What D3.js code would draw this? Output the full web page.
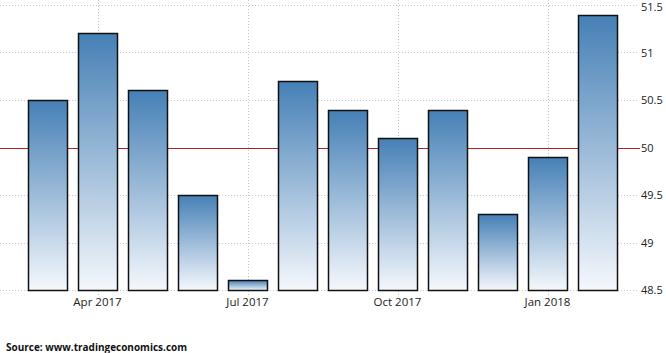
<!DOCTYPE html>
<html>
<meta charset="utf-8">
<head>
<script src="https://cdn.jsdelivr.net/npm/d3@7"></script>
<style>
body { margin: 0; background: #fff; }
text { font-family: "Open Sans", "DejaVu Sans", sans-serif; }
</style>
</head>
<body>
<div id="chart"></div>
<script>
var months = ["Mar 2017", "Apr 2017", "May 2017", "Jun 2017", "Jul 2017", "Aug 2017",
              "Sep 2017", "Oct 2017", "Nov 2017", "Dec 2017", "Jan 2018", "Feb 2018"];
var values = [50.5, 51.2, 50.6, 49.5, 48.6, 50.7, 50.4, 50.1, 50.4, 49.3, 49.9, 51.4];
var xTickLabels = ["Apr 2017", "Jul 2017", "Oct 2017", "Jan 2018"];
var yTicks = [48.5, 49, 49.5, 50, 50.5, 51, 51.5];
var refLine = 50;

var W = 666, H = 353;

var svg = d3.select("#chart").append("svg")
    .attr("width", W)
    .attr("height", H);

var defs = svg.append("defs");
var grad = defs.append("linearGradient")
    .attr("id", "barGrad")
    .attr("x1", 0).attr("y1", 0).attr("x2", 0).attr("y2", 1);
grad.append("stop").attr("offset", "0%").attr("stop-color", "#4680b6");
grad.append("stop").attr("offset", "100%").attr("stop-color", "#f5f8fc");

var x = d3.scaleBand()
    .domain(months)
    .range([22.5, 622.5])
    .paddingInner(0.22)
    .paddingOuter(0.11);

var y = d3.scaleLinear()
    .domain([48.5, 51.5])
    .range([290, 5]);

// horizontal grid
svg.append("g").selectAll("line")
    .data(yTicks)
    .enter().append("line")
    .attr("x1", 0)
    .attr("x2", 638)
    .attr("y1", function(d) { return Math.round(y(d)) + 0.5; })
    .attr("y2", function(d) { return Math.round(y(d)) + 0.5; })
    .attr("stroke", "#c8c8c8")
    .attr("stroke-dasharray", "1,2");

// vertical grid
svg.append("g").selectAll("line")
    .data(xTickLabels)
    .enter().append("line")
    .attr("x1", function(d) { return Math.round(x(d) + x.bandwidth() / 2) + 0.5; })
    .attr("x2", function(d) { return Math.round(x(d) + x.bandwidth() / 2) + 0.5; })
    .attr("y1", 0)
    .attr("y2", 295)
    .attr("stroke", "#c8c8c8")
    .attr("stroke-dasharray", "1,2");

// reference line at 50
svg.append("line")
    .attr("x1", 0)
    .attr("x2", 640)
    .attr("y1", Math.round(y(refLine)) + 0.5)
    .attr("y2", Math.round(y(refLine)) + 0.5)
    .attr("stroke", "#b22222")
    .attr("stroke-width", 1);

// bars
svg.append("g").selectAll("rect")
    .data(values)
    .enter().append("rect")
    .attr("x", function(d, i) { return Math.round(x(months[i])) + 0.5; })
    .attr("y", function(d) { return Math.round(y(d)) + 0.5; })
    .attr("width", Math.round(x.bandwidth()))
    .attr("height", function(d) { return Math.round(y(48.5)) - Math.round(y(d)); })
    .attr("fill", "url(#barGrad)")
    .attr("stroke", "#111")
    .attr("stroke-width", 1.5);

// y axis labels
svg.append("g").selectAll("text")
    .data(yTicks)
    .enter().append("text")
    .attr("x", 641)
    .attr("y", function(d) { return Math.max(y(d) + 4, 11); })
    .attr("font-size", 11)
    .attr("fill", "#222")
    .text(function(d) { return d; });

// x axis labels
svg.append("g").selectAll("text")
    .data(xTickLabels)
    .enter().append("text")
    .attr("x", function(d) { return x(d) + x.bandwidth() / 2; })
    .attr("y", 306)
    .attr("text-anchor", "middle")
    .attr("font-size", 11.5)
    .attr("fill", "#222")
    .text(function(d) { return d; });

svg.append("text")
    .attr("x", 6)
    .attr("y", 351)
    .attr("font-size", 11)
    .attr("font-weight", "bold")
    .attr("fill", "#111")
    .attr("textLength", 181)
    .attr("lengthAdjust", "spacingAndGlyphs")
    .text("Source: www.tradingeconomics.com");
</script>
</body>
</html>
